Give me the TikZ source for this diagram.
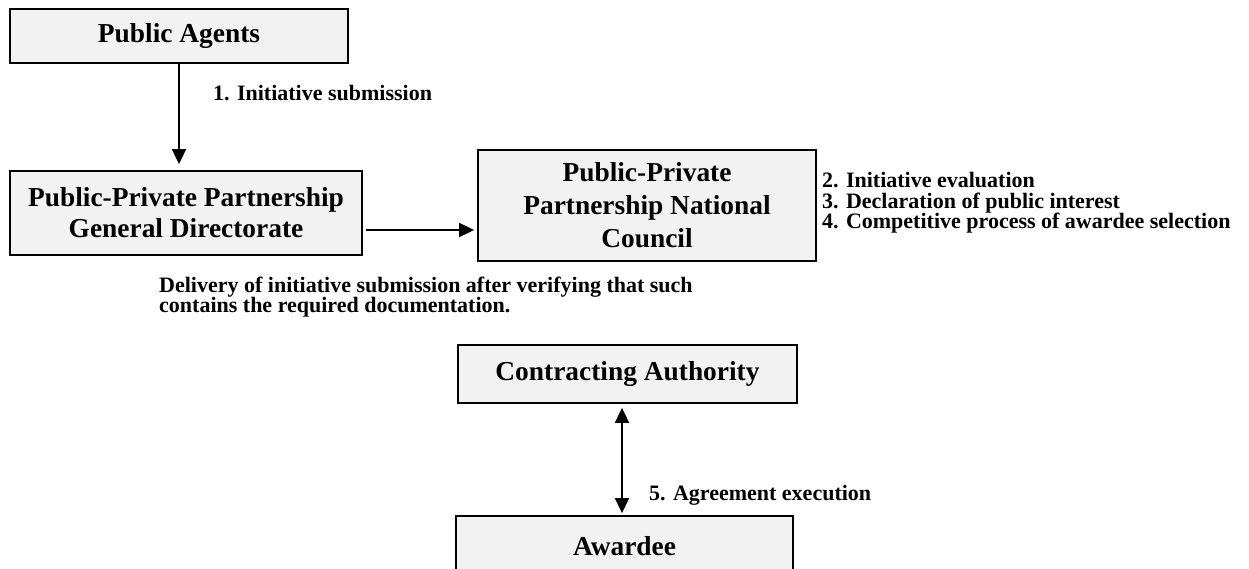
\documentclass[tikz,border=0pt]{standalone}
\usepackage{fontspec}
\setmainfont{Liberation Serif}
\usetikzlibrary{arrows.meta}
\definecolor{boxgray}{HTML}{F2F2F2}
\begin{document}
\begin{tikzpicture}[x=1pt,y=-1pt,
  box/.style={draw=black, line width=1.8pt, fill=boxgray, inner sep=0pt, align=center,
    font=\bfseries\fontsize{27.4}{31}\selectfont},
  lbl/.style={inner sep=0pt, anchor=west, align=left,
    font=\bfseries\fontsize{22}{20.5}\selectfont},
  arr/.style={line width=1.8pt, -{Triangle[length=15pt,width=14pt]}},
  darr/.style={line width=1.8pt, {Triangle[length=15pt,width=14pt]}-{Triangle[length=15pt,width=14pt]}}]
\useasboundingbox (0,0) rectangle (1249,569);
\clip (0,0) rectangle (1249,569);
\node[box, minimum width=338pt, minimum height=54pt] (pa) at (179,36) {Public Agents};
\node[box, minimum width=352pt, minimum height=84pt] (gd) at (186,213) {Public-Private Partnership\\General Directorate};
\node[box, minimum width=338pt, minimum height=111pt, font=\bfseries\fontsize{27.4}{33}\selectfont] (nc) at (647,205.5) {Public-Private\\Partnership National\\Council};
\node[box, minimum width=339pt, minimum height=58pt] (ca) at (627.5,374) {Contracting Authority};
\node[box, minimum width=337pt, minimum height=60pt] (aw) at (624.5,546) {Awardee};
\coordinate (dx) at (622,0);
\draw[arr, shorten >=6pt] (pa.south) -- (pa.south |- gd.north);
\draw[arr, shorten <=3pt, shorten >=3pt] ([yshift=-17pt]gd.east) -- ([yshift=-17pt]gd.east -| nc.west);
\draw[darr, shorten <=4pt, shorten >=2pt] (dx |- ca.south) -- (dx |- aw.north);
\node[lbl] (l1) at (213,93) {1. Initiative submission};
\node[lbl] (l2) at (822,203) {2. Initiative evaluation\\3. Declaration of public interest\\4. Competitive process of awardee selection};
\node[lbl] (l3) at (159,297) {Delivery of initiative submission after verifying that such\\contains the required documentation.};
\node[lbl] (l5) at (649,495) {5. Agreement execution};
\end{tikzpicture}
\end{document}
